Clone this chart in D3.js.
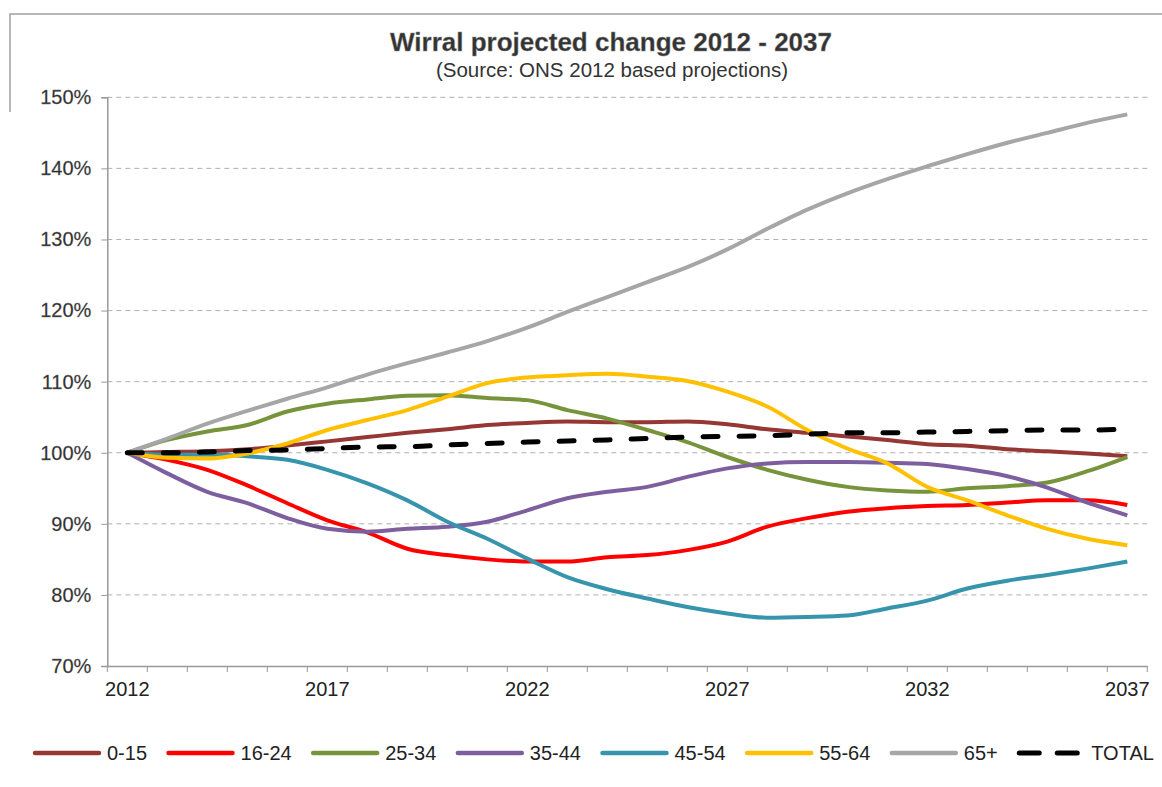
<!DOCTYPE html>
<html>
<head>
<meta charset="utf-8">
<title>Wirral projected change 2012 - 2037</title>
<script src="https://cdn.jsdelivr.net/npm/d3@7/dist/d3.min.js"></script>
<style>
  html, body { margin: 0; padding: 0; background: #fff; }
  #chart-area { width: 1162px; height: 787px; }
  text { font-family: Arial, "Liberation Sans", sans-serif; }
</style>
</head>
<body>
<div id="chart-area"></div>
<script>
// categories (one per projection year)
const years = [2012, 2013, 2014, 2015, 2016, 2017, 2018, 2019, 2020, 2021, 2022, 2023, 2024,
  2025, 2026, 2027, 2028, 2029, 2030, 2031, 2032, 2033, 2034, 2035, 2036, 2037];
const yearLabels = [2012, 2017, 2022, 2027, 2032, 2037];
const percentTicks = [70, 80, 90, 100, 110, 120, 130, 140, 150];

// % of 2012 population
const age0_15 = [100, 100.1, 100.2, 100.5, 101.0, 101.6, 102.2, 102.8, 103.3, 103.9, 104.2, 104.4, 104.3,
  104.3, 104.4, 104.0, 103.3, 102.8, 102.3, 101.8, 101.2, 101.0, 100.5, 100.2, 99.9, 99.5];
const age16_24 = [100, 99.0, 97.6, 95.4, 92.9, 90.5, 88.8, 86.5, 85.6, 85.0, 84.7, 84.7, 85.3,
  85.6, 86.3, 87.5, 89.6, 90.8, 91.7, 92.2, 92.5, 92.65, 93.0, 93.3, 93.3, 92.65];
const age25_34 = [100, 101.8, 103.0, 103.9, 105.8, 106.9, 107.5, 108.0, 108.1, 107.7, 107.4, 106.0, 104.8,
  103.2, 101.5, 99.4, 97.6, 96.2, 95.2, 94.7, 94.5, 95.0, 95.3, 95.8, 97.4, 99.4];
const age35_44 = [100, 97.1, 94.5, 92.9, 90.8, 89.3, 88.9, 89.3, 89.6, 90.3, 91.9, 93.6, 94.5,
  95.2, 96.6, 97.8, 98.5, 98.7, 98.7, 98.6, 98.4, 97.7, 96.7, 95.1, 93.0, 91.2];
const age45_54 = [100, 99.7, 99.7, 99.5, 99.0, 97.6, 95.7, 93.3, 90.3, 87.9, 85.1, 82.5, 80.8,
  79.5, 78.3, 77.4, 76.8, 76.9, 77.1, 78.1, 79.2, 80.9, 82.0, 82.8, 83.7, 84.7];
const age55_64 = [100, 99.3, 99.2, 99.9, 101.3, 103.2, 104.6, 106.0, 107.9, 109.8, 110.6, 110.9, 111.1,
  110.7, 110.1, 108.6, 106.5, 103.2, 100.6, 98.5, 95.2, 93.3, 91.2, 89.3, 87.9, 87.0];
const age65plus = [100, 102.0, 104.1, 105.9, 107.6, 109.2, 111.0, 112.6, 114.1, 115.7, 117.6, 119.8, 121.9,
  124.0, 126.1, 128.6, 131.5, 134.2, 136.5, 138.5, 140.3, 142.0, 143.6, 145.0, 146.4, 147.6];
const total = [100, 100.0, 100.1, 100.3, 100.4, 100.6, 100.8, 100.85, 101.1, 101.3, 101.5, 101.65, 101.8,
  102.0, 102.2, 102.3, 102.4, 102.6, 102.8, 102.8, 102.9, 103.0, 103.1, 103.2, 103.2, 103.3];

const seriesNames = ["0-15", "16-24", "25-34", "35-44", "45-54", "55-64", "65+", "TOTAL"];

(function () {
  const W = 1162, H = 787;
  const plot = { left: 107.3, right: 1147.3, top: 97.3, bottom: 666 };

  const series = [
    { name: seriesNames[0], values: age0_15, color: "#953735" },
    { name: seriesNames[1], values: age16_24, color: "#ff0000" },
    { name: seriesNames[2], values: age25_34, color: "#77933c" },
    { name: seriesNames[3], values: age35_44, color: "#7d5f9f" },
    { name: seriesNames[4], values: age45_54, color: "#3794ad" },
    { name: seriesNames[5], values: age55_64, color: "#ffc000" },
    { name: seriesNames[6], values: age65plus, color: "#a6a6a6" },
    { name: seriesNames[7], values: total, color: "#000000", dashed: true }
  ];

  const svg = d3.select("#chart-area")
    .append("svg")
    .attr("width", W)
    .attr("height", H);

  // outer chart frame (only top / left visible in the original)
  svg.append("path")
    .attr("d", `M10,112 V14 H${W}`)
    .attr("fill", "none")
    .attr("stroke", "#a0a0a0")
    .attr("stroke-width", 1.5);

  // Scales
  const xScale = d3.scaleBand().domain(years).range([plot.left, plot.right]);
  const yScale = d3.scaleLinear().domain([70, 150]).range([plot.bottom, plot.top]);
  const xMid = (d) => xScale(d) + xScale.bandwidth() / 2;

  // Title
  svg.append("text")
    .attr("x", 611).attr("y", 51)
    .attr("text-anchor", "middle")
    .attr("font-size", 26).attr("font-weight", "bold")
    .attr("fill", "#333")
    .attr("stroke", "#888").attr("stroke-width", 0.4)
    .text("Wirral projected change 2012 - 2037");
  svg.append("text")
    .attr("x", 612).attr("y", 77)
    .attr("text-anchor", "middle")
    .attr("font-size", 20.5)
    .attr("fill", "#333")
    .text("(Source: ONS 2012 based projections)");

  // Gridlines (dashed)
  svg.append("g")
    .selectAll("line")
    .data(percentTicks.filter((d) => d > 70))
    .join("line")
    .attr("x1", plot.left).attr("x2", plot.right)
    .attr("y1", (d) => yScale(d)).attr("y2", (d) => yScale(d))
    .attr("stroke", "#b0b0b0")
    .attr("stroke-width", 1)
    .attr("stroke-dasharray", "5,4");

  // Y axis
  const yAxis = svg.append("g")
    .attr("transform", `translate(${plot.left},0)`)
    .call(d3.axisLeft(yScale).tickValues(percentTicks).tickSize(6).tickPadding(10)
      .tickFormat((d) => d + "%"));
  yAxis.select(".domain").attr("stroke", "#999").attr("stroke-width", 1.5);
  yAxis.selectAll(".tick line").attr("stroke", "#999");
  yAxis.selectAll(".tick text")
    .attr("font-size", 20).attr("fill", "#2a2a2a")
    .attr("stroke", "#777").attr("stroke-width", 0.3)
    .attr("font-family", "Arial, 'Liberation Sans', sans-serif");

  // X axis: tick marks between categories, labels every 5 years
  const xAxis = svg.append("g")
    .attr("transform", `translate(0,${plot.bottom})`)
    .call(d3.axisBottom(xScale).tickSizeOuter(0).tickSize(0).tickPadding(16)
      .tickFormat((d) => (yearLabels.includes(d) ? d : "")));
  xAxis.select(".domain").attr("stroke", "#999").attr("stroke-width", 1.5);
  xAxis.selectAll(".tick text")
    .attr("font-size", 20).attr("fill", "#222")
    .attr("font-family", "Arial, 'Liberation Sans', sans-serif");
  xAxis.append("g")
    .selectAll("line")
    .data(years.concat(["end"]))
    .join("line")
    .attr("x1", (d, i) => plot.left + i * xScale.bandwidth())
    .attr("x2", (d, i) => plot.left + i * xScale.bandwidth())
    .attr("y1", 0).attr("y2", 6)
    .attr("stroke", "#999");

  // Lines
  const line = d3.line()
    .x((d, i) => xMid(years[i]))
    .y((d) => yScale(d))
    .curve(d3.curveMonotoneX);

  svg.append("g")
    .selectAll("path")
    .data(series)
    .join("path")
    .attr("d", (d) => line(d.values))
    .attr("fill", "none")
    .attr("stroke", (d) => d.color)
    .attr("stroke-width", (d) => (d.dashed ? 5 : 4))
    .attr("stroke-linecap", (d) => (d.dashed ? "round" : "butt"))
    .attr("stroke-linejoin", "round")
    .attr("stroke-dasharray", (d) => (d.dashed ? "15,21" : null));

  // Legend
  const legend = svg.append("g").attr("transform", "translate(0,753)");
  let lx = 33;
  series.forEach((s) => {
    const item = legend.append("g");
    item.append("line")
      .attr("x1", lx + 2).attr("x2", lx + 66)
      .attr("y1", 0).attr("y2", 0)
      .attr("stroke", s.color)
      .attr("stroke-width", s.dashed ? 5 : 4.5)
      .attr("stroke-linecap", "round")
      .attr("stroke-dasharray", s.dashed ? "20,18" : null);
    const t = item.append("text")
      .attr("x", lx + 74).attr("y", 7)
      .attr("font-size", 20).attr("fill", "#222")
      .text(s.name);
    lx += 74 + t.node().getComputedTextLength() + 19.5;
  });
})();
</script>
</body>
</html>
